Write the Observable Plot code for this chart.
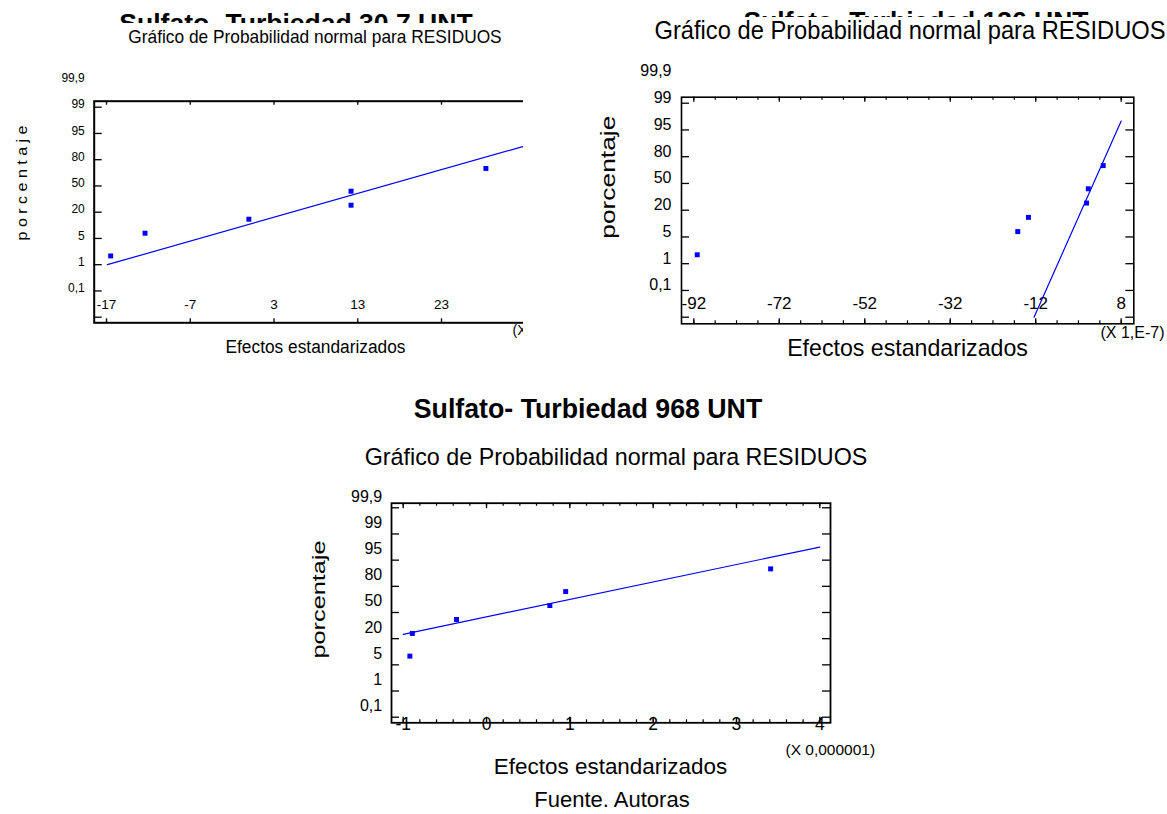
<!DOCTYPE html>
<html><head><meta charset="utf-8">
<script src="https://cdn.jsdelivr.net/npm/d3@7"></script>
<script src="https://cdn.jsdelivr.net/npm/@observablehq/plot@0.6"></script>
<style>
html,body{margin:0;padding:0;background:#fff;}
#page{position:relative;width:1167px;height:814px;overflow:hidden;font-family:"Liberation Sans",Arial,sans-serif;color:#000;background:#fff;}
.t{position:absolute;white-space:nowrap;transform-origin:50% 50%;color:#000;}
</style></head><body><div id="page"></div>
<script>
// ---------- shared axis values ----------
const yTickPct = [0.1, 1, 5, 20, 50, 80, 95, 99, 99.9];
const yTickLabels = ["0,1", "1", "5", "20", "50", "80", "95", "99", "99,9"];
const rankPct = [10, 26, 42, 58, 74, 90];
const subtitle = "Gráfico de Probabilidad normal para RESIDUOS";
const xTitle = "Efectos estandarizados";
const caption = "Fuente. Autoras";

// ---------- Chart A: 30,7 UNT ----------
const titleA = "Sulfato- Turbiedad 30,7 UNT";
const effectsA = [-16.5, -12.4, 0.0, 12.2, 12.2, 28.3];
const fitXA = [-16.9, 32.7];
const fitPctA = [5, 97];
const xTicksA = [-17, -7, 3, 13, 23];

// ---------- Chart B: 136 UNT ----------
const titleB = "Sulfato- Turbiedad 136 UNT";
const effectsB = [-91.2, -16.2, -13.7, -0.1, 0.3, 3.8];
const fitXB = [-12.4, 8.0];
const fitPctB = [0.1, 99.3];
const xTicksB = [-92, -72, -52, -32, -12, 8];
const xMinorB = d3.range(-92, 8.5, 5);

// ---------- Chart C: 968 UNT ----------
const titleC = "Sulfato- Turbiedad 968 UNT";
const effectsC = [-0.92, -0.89, -0.36, 0.76, 0.95, 3.41];
const fitXC = [-1.0, 4.0];
const fitPctC = [25, 97];
const xTicksC = [-1, 0, 1, 2, 3, 4];
const xMinorC = d3.range(-1, 4.05, 0.2);

const page = document.getElementById("page");
const toIdx = d3.scaleLinear().domain(yTickPct).range(yTickPct.map((d, i) => i));
const BLUE = "#0000ff";
const FONT = '"Liberation Sans", Arial, sans-serif';

function probPlot(c) {
  const fw = c.width - c.mL - c.mR, fh = c.height - c.mT - c.mB;
  const pts = c.effects.map((x, i) => ({x, y: toIdx(rankPct[i])}));
  const fit = c.fitX.map((x, i) => ({x, y: toIdx(c.fitPct[i])}));
  const yt = yTickPct.map((p, i) => ({y: toIdx(p), label: yTickLabels[i]}));
  const ox = c.left + c.mL, oy = c.top + c.mT;
  const marks = [
    Plot.tickY(yt, {y: "y", insetRight: fw - 8, stroke: "black", strokeWidth: 1.3}),
    c.rightTicks ? Plot.tickY(yt, {y: "y", insetLeft: fw - 8, stroke: "black", strokeWidth: 1.3}) : null,
    c.xMinor ? Plot.tickX(c.xMinor, {x: d => d, insetBottom: fh - c.minorLen, stroke: "black", strokeWidth: 1.2}) : null,
    c.xMinor ? Plot.tickX(c.xMinor, {x: d => d, insetTop: fh - c.minorLen, stroke: "black", strokeWidth: 1.2}) : null,
    Plot.tickX(c.xTicks, {x: d => d, insetBottom: fh - c.majorLen, stroke: "black", strokeWidth: 1.3}),
    Plot.tickX(c.xTicks, {x: d => d, insetTop: fh - c.majorLen, stroke: "black", strokeWidth: 1.3}),
    Plot.frame({stroke: "black", strokeWidth: c.frameW}),
    Plot.text(yt, {y: "y", text: "label", frameAnchor: "left", textAnchor: "end", dx: c.yLab.dx, dy: c.yLab.dy, fontSize: c.yLab.size, fill: "black"}),
    Plot.text(c.xTicks, {x: d => d, text: d => String(d), frameAnchor: "bottom", dy: c.xLab.dy, fontSize: c.xLab.size, fill: "black"}),
    Plot.line(fit, {x: "x", y: "y", stroke: BLUE, strokeWidth: 1.2}),
    Plot.dot(pts, {x: "x", y: "y", symbol: "square", r: 2.8, fill: BLUE}),
    ...c.texts.map(t => Plot.text([t.str], {
      text: d => d, frameAnchor: "top-left", dx: t.x - ox, dy: t.y - oy,
      fontSize: t.size, rotate: t.rotate || 0, textAnchor: t.anchor || "middle", fill: "black"
    }))
  ];
  const svg = Plot.plot({
    width: c.width, height: c.height,
    marginLeft: c.mL, marginRight: c.mR, marginTop: c.mT, marginBottom: c.mB,
    x: {domain: c.xDomain, axis: null},
    y: {domain: c.yDomain, axis: null},
    style: {background: "transparent", fontFamily: FONT, overflow: "hidden"},
    marks
  });
  svg.style.position = "absolute";
  svg.style.left = c.left + "px";
  svg.style.top = c.top + "px";
  svg.style.maxWidth = "none";
  svg.querySelectorAll("text").forEach(el => {
    const t = c.texts.find(t => t.len && t.str === el.textContent);
    if (t) { el.setAttribute("textLength", t.len); el.setAttribute("lengthAdjust", "spacingAndGlyphs"); }
  });
  page.appendChild(svg);
}

probPlot({
  left: 0, top: 0, width: 523, height: 360, mL: 93.7, mR: -3, mT: 100.7, mB: 37.7,
  xDomain: [-18.469, 33.149], yDomain: [-0.2133, 8.2286],
  effects: effectsA, fitX: fitXA, fitPct: fitPctA, xTicks: xTicksA, xMinor: null,
  majorLen: 4, minorLen: 0, rightTicks: false, frameW: 2,
  yLab: {dx: -9.4, dy: -29, size: 12}, xLab: {dy: -14, size: 13.5},
  texts: [
    {str: "p o r c e n t a j e", x: 16, y: 182.5, size: 15, rotate: -90, len: 115},
    {str: xTitle, x: 315, y: 339.4, size: 18, len: 180},
    {str: "(X", x: 512, y: 325, size: 14, anchor: "start"}
  ]
});

probPlot({
  left: 560, top: 0, width: 607, height: 360, mL: 121, mR: 33.7, mT: 96.7, mB: 36.7,
  xDomain: [-94.88, 10.95], yDomain: [-0.2467, 8.2243],
  effects: effectsB, fitX: fitXB, fitPct: fitPctB, xTicks: xTicksB, xMinor: xMinorB,
  majorLen: 5, minorLen: 3, rightTicks: true, frameW: 1.6,
  yLab: {dx: -10, dy: -32, size: 16}, xLab: {dy: -15, size: 17},
  texts: [
    {str: "porcentaje", x: 600, y: 176.7, size: 20, rotate: -90, len: 123},
    {str: xTitle, x: 907, y: 339.3, size: 23.2, len: 240.7},
    {str: "(X 1,E-7)", x: 1100, y: 326, size: 16, anchor: "start"}
  ]
});

probPlot({
  left: 280, top: 480, width: 620, height: 334, mL: 111, mR: 70, mT: 22.7, mB: 91.7,
  xDomain: [-1.1404, 4.1284], yDomain: [-0.2139, 8.1757],
  effects: effectsC, fitX: fitXC, fitPct: fitPctC, xTicks: xTicksC, xMinor: xMinorC,
  majorLen: 5.5, minorLen: 3, rightTicks: true, frameW: 1.8,
  yLab: {dx: -9.3, dy: -11.3, size: 16}, xLab: {dy: 6.7, size: 17.5},
  texts: [
    {str: "porcentaje", x: 311, y: 599, size: 19, rotate: -90, len: 118},
    {str: xTitle, x: 610, y: 757.8, size: 22.4, len: 233.3},
    {str: "(X 0,000001)", x: 785, y: 743.3, size: 15.5, anchor: "start"}
  ]
});

// ---------- HTML titles ----------
const ctx = document.createElement("canvas").getContext("2d");
function htmlText(parent, str, {cx, baseline, size, width, weight = "normal"}) {
  const font = `${weight} ${size}px ${FONT}`;
  ctx.font = font;
  const w = ctx.measureText(str).width;
  const k = width ? width / w : 1;
  const div = document.createElement("div");
  div.className = "t";
  div.textContent = str;
  div.style.font = font;
  div.style.lineHeight = size + "px";
  div.style.left = cx + "px";
  div.style.top = (baseline - 0.8465 * size) + "px";
  div.style.transform = `translateX(-50%) scaleX(${k})`;
  parent.appendChild(div);
}
function clipBox(bottom) {
  const d = document.createElement("div");
  d.style.cssText = `position:absolute;left:0;top:0;width:1167px;height:${bottom}px;overflow:hidden;`;
  page.appendChild(d);
  return d;
}
htmlText(clipBox(23.3), titleA, {cx: 296, baseline: 32.2, size: 26.4, width: 353.3, weight: "bold"});
htmlText(clipBox(16.7), titleB, {cx: 915.8, baseline: 29.8, size: 26.3, width: 345, weight: "bold"});
htmlText(page, subtitle, {cx: 315, baseline: 43.3, size: 19, width: 373.3});
htmlText(page, subtitle, {cx: 910, baseline: 39.3, size: 26, width: 511});
htmlText(page, titleC, {cx: 588, baseline: 419.3, size: 27, width: 348.5, weight: "bold"});
htmlText(page, subtitle, {cx: 615.5, baseline: 466, size: 24.5, width: 502.7});
htmlText(page, caption, {cx: 612, baseline: 808, size: 22});
</script></body></html>
